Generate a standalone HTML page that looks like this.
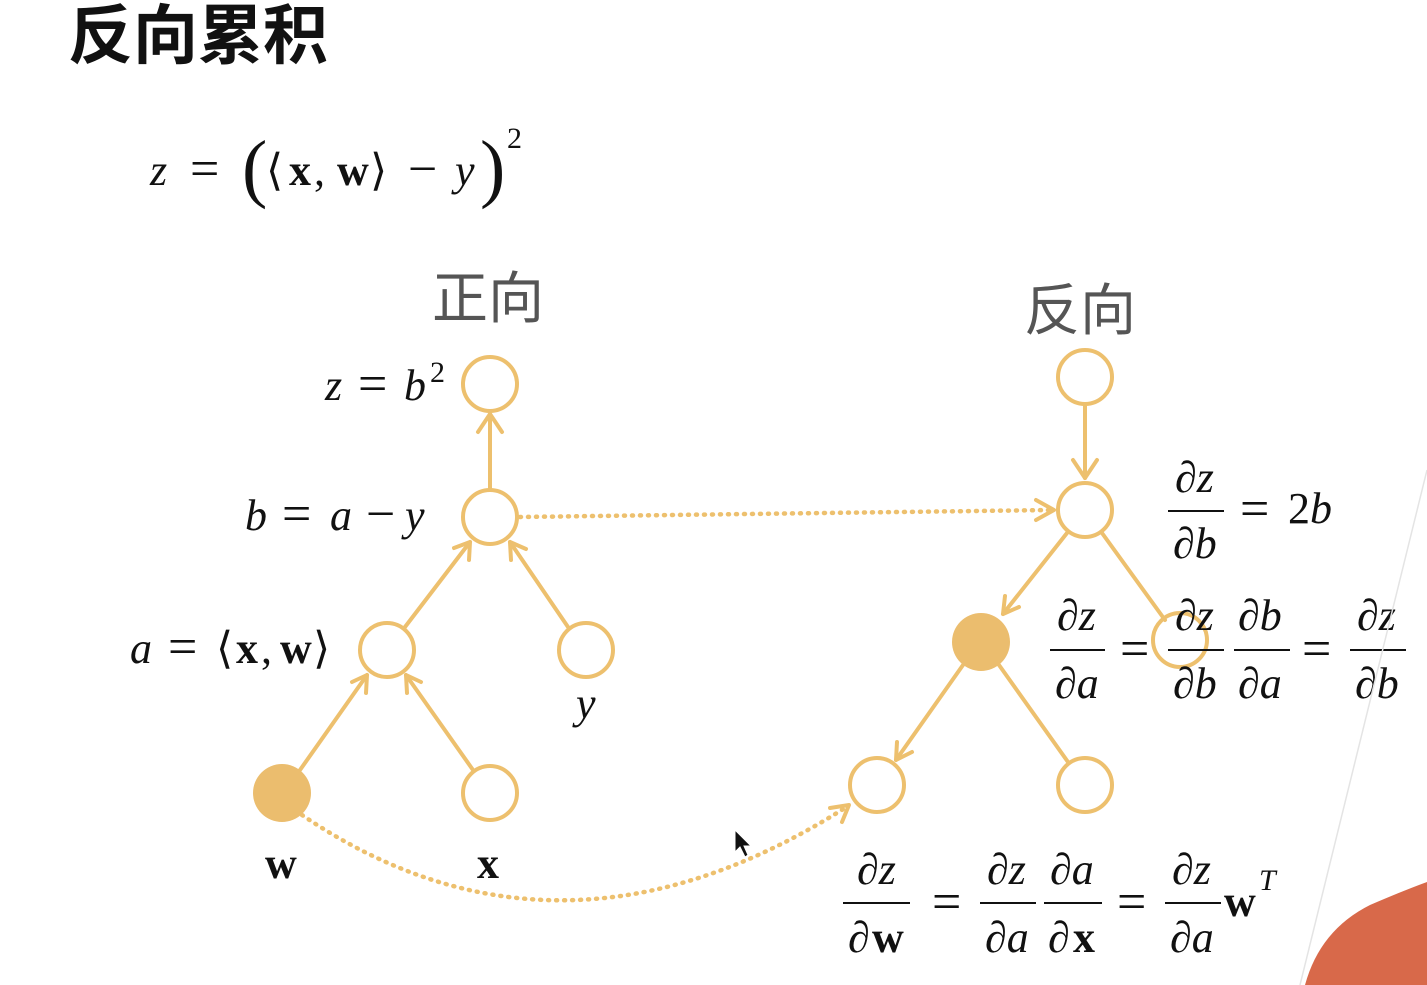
<!DOCTYPE html>
<html><head><meta charset="utf-8"><style>
html,body{margin:0;padding:0;background:#fff;width:1427px;height:985px;overflow:hidden}
svg{display:block}
.m{font-family:"Liberation Serif",serif;font-style:italic;font-size:44px;fill:#111}
.r{font-family:"Liberation Serif",serif;font-size:44px;fill:#111}
.b{font-family:"Liberation Serif",serif;font-weight:bold;font-size:44px;fill:#111}
.eq{font-family:"Liberation Serif",serif;font-size:52px;fill:#111}
.sup{font-family:"Liberation Serif",serif;font-size:30px;fill:#111}
.par{font-family:"Liberation Serif",serif;font-size:76px;fill:#111}
</style></head><body>
<svg width="1427" height="985" viewBox="0 0 1427 985" xmlns="http://www.w3.org/2000/svg">
<text x="68" y="58" font-family="'Liberation Sans','Noto Sans CJK SC',sans-serif" font-weight="bold" font-size="65" fill="#111">反向累积</text>
<text x="150" y="185" class="m">z</text>
<text x="190" y="186" class="eq">=</text>
<text x="242" y="193" class="par">(</text>
<text x="266" y="185" class="r">⟨</text>
<text x="289" y="185" class="b">x</text>
<text x="314" y="185" class="r">,</text>
<text x="337" y="185" class="b">w</text>
<text x="370" y="185" class="r">⟩</text>
<text x="408" y="186" class="eq">−</text>
<text x="455" y="185" class="m">y</text>
<text x="480" y="193" class="par">)</text>
<text x="507" y="148" class="sup">2</text>

<text x="432" y="318" font-family="'Liberation Sans','Noto Sans CJK SC',sans-serif" font-size="56" fill="#555">正向</text>
<text x="1024" y="330" font-family="'Liberation Sans','Noto Sans CJK SC',sans-serif" font-size="56" fill="#555">反向</text>

<g stroke="#EDC06E" stroke-width="4" fill="none" stroke-linecap="round" stroke-linejoin="round">
<line x1="490" y1="490" x2="490" y2="414"/><polyline points="478,432 490,414 502,432"/>
<line x1="405" y1="627" x2="470" y2="542"/><polyline points="454,548 470,542 469,560"/>
<line x1="568" y1="627" x2="510" y2="542"/><polyline points="511,560 510,542 526,549"/>
<line x1="300" y1="770" x2="367" y2="675"/><polyline points="352,682 367,675 366,693"/>
<line x1="473" y1="770" x2="406" y2="675"/><polyline points="407,693 406,675 421,682"/>
<line x1="1085" y1="404" x2="1085" y2="478"/><polyline points="1073,460 1085,478 1097,460"/>
<line x1="1067" y1="533" x2="1003" y2="614"/><polyline points="1005,596 1003,614 1019,607"/>
<line x1="1102" y1="533" x2="1165" y2="620"/>
<line x1="963" y1="665" x2="896" y2="760"/><polyline points="897,742 896,760 912,752"/>
<line x1="999" y1="665" x2="1068" y2="762"/>
<line x1="520" y1="517" x2="1052" y2="510" stroke-dasharray="1,7" stroke-width="4.5"/>
<polyline points="1036,500 1054,510 1036,520"/>
<path d="M302,815 Q560,990 848,806" stroke-dasharray="1,7" stroke-width="4.5"/>
<polyline points="830,808 849,805 842,822"/>
<circle cx="490" cy="384" r="27" fill="#fff"/>
<circle cx="490" cy="517" r="27" fill="#fff"/>
<circle cx="387" cy="650" r="27" fill="#fff"/>
<circle cx="586" cy="650" r="27" fill="#fff"/>
<circle cx="490" cy="793" r="27" fill="#fff"/>
<circle cx="1085" cy="377" r="27" fill="#fff"/>
<circle cx="1085" cy="510" r="27" fill="#fff"/>
<circle cx="1180" cy="640" r="27"/>
<circle cx="877" cy="785" r="27" fill="#fff"/>
<circle cx="1085" cy="785" r="27" fill="#fff"/>
</g>
<circle cx="282" cy="793" r="29" fill="#EBBD6E"/>
<circle cx="981" cy="642" r="29" fill="#EBBD6E"/>

<text x="325" y="400" class="m">z</text><text x="358" y="401" class="eq">=</text><text x="404" y="400" class="m">b</text><text x="430" y="382" class="sup">2</text>
<text x="245" y="530" class="m">b</text><text x="282" y="531" class="eq">=</text><text x="330" y="530" class="m">a</text><text x="366" y="531" class="eq">−</text><text x="405" y="530" class="m">y</text>
<text x="130" y="663" class="m">a</text><text x="168" y="664" class="eq">=</text><text x="216" y="663" class="r">⟨</text><text x="236" y="663" class="b">x</text><text x="261" y="663" class="r">,</text><text x="280" y="663" class="b">w</text><text x="313" y="663" class="r">⟩</text>
<text x="576" y="718" class="m">y</text>
<text x="265" y="878" class="b">w</text>
<text x="477" y="878" class="b">x</text>

<g stroke="#111" stroke-width="2">
<line x1="1168" y1="511" x2="1224" y2="511"/>
<line x1="1050" y1="650" x2="1105" y2="650"/>
<line x1="1168" y1="650" x2="1224" y2="650"/>
<line x1="1234" y1="650" x2="1290" y2="650"/>
<line x1="1350" y1="650" x2="1406" y2="650"/>
<line x1="843" y1="903" x2="910" y2="903"/>
<line x1="980" y1="903" x2="1036" y2="903"/>
<line x1="1044" y1="903" x2="1102" y2="903"/>
<line x1="1165" y1="903" x2="1221" y2="903"/>
</g>
<text x="1175" y="492" class="m">∂z</text><text x="1173" y="558" class="m">∂b</text>
<text x="1240" y="526" class="eq">=</text><text x="1288" y="523" class="r">2</text><text x="1310" y="523" class="m">b</text>
<text x="1057" y="630" class="m">∂z</text><text x="1055" y="698" class="m">∂a</text>
<text x="1120" y="666" class="eq">=</text>
<text x="1175" y="630" class="m">∂z</text><text x="1173" y="698" class="m">∂b</text>
<text x="1238" y="630" class="m">∂b</text><text x="1238" y="698" class="m">∂a</text>
<text x="1302" y="666" class="eq">=</text>
<text x="1357" y="630" class="m">∂z</text><text x="1355" y="698" class="m">∂b</text>
<text x="857" y="884" class="m">∂z</text><text x="848" y="952" class="m">∂</text><text x="872" y="952" class="b">w</text>
<text x="932" y="919" class="eq">=</text>
<text x="987" y="884" class="m">∂z</text><text x="985" y="952" class="m">∂a</text>
<text x="1050" y="884" class="m">∂a</text><text x="1048" y="952" class="m">∂</text><text x="1073" y="952" class="b">x</text>
<text x="1117" y="919" class="eq">=</text>
<text x="1172" y="884" class="m">∂z</text><text x="1170" y="952" class="m">∂a</text>
<text x="1224" y="916" class="b">w</text><text x="1259" y="890" class="sup" style="font-style:italic">T</text>

<line x1="1427" y1="470" x2="1300" y2="985" stroke="#e4e4e4" stroke-width="1.5"/>
<path d="M1305,985 Q1320,930 1370,905 Q1405,890 1427,882 L1427,985 Z" fill="#D8694A"/>
<path d="M735,830 L735,852 L740,847 L745,857 L748,855 L744,846 L751,846 Z" fill="#111" stroke="#fff" stroke-width="1"/>
</svg>
</body></html>
